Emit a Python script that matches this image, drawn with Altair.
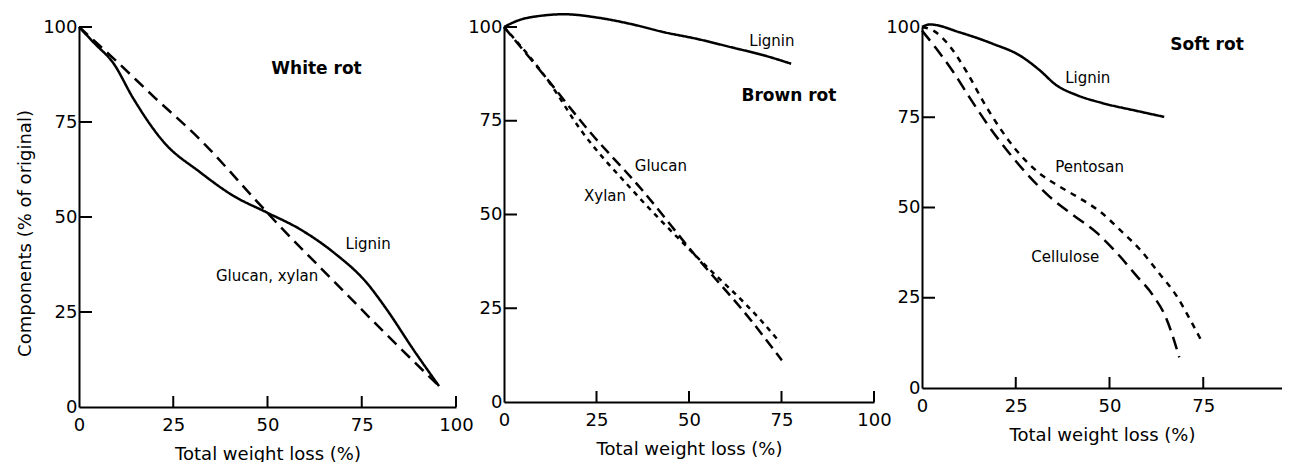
import altair as alt
import pandas as pd

# ---------------- data ----------------
# White rot
wr_lignin_x = [0, 4, 9.1, 14.4, 22.4, 32.1, 40.9, 49.8, 58.6, 67.5, 76.3, 81.6, 88.7, 95.5]
wr_lignin_y = [100, 95.8, 90.5, 81.2, 69.8, 61.8, 55.6, 51.2, 46.8, 40.7, 32.7, 25.7, 15.1, 5.5]
wr_gx_x = [0, 9.5, 20, 32.1, 47.1, 52.4, 67.5, 79.8, 95.5]
wr_gx_y = [100, 91.4, 81.5, 70.4, 54.2, 48.5, 33.2, 20.8, 5.5]

# Brown rot
br_lignin_x = [0, 3.7, 10, 16.3, 25.3, 34.3, 43.3, 52.3, 61.4, 70.4, 77.6]
br_lignin_y = [100, 101.7, 103, 103.4, 102.5, 100.8, 98.6, 96.8, 94.6, 92.4, 90.2]
br_glucan_x = [0, 12, 22.7, 37.1, 51.6, 66.9, 75.1]
br_glucan_y = [100, 85.7, 72.6, 56.8, 39.2, 21.6, 11.1]
br_xylan_x = [0, 12, 20.7, 34.4, 51.6, 69.6, 74.6]
br_xylan_y = [100, 85.6, 72.6, 56.8, 39.2, 21.6, 15.9]

# Soft rot
sr_lignin_x = [0, 2.1, 10.1, 19, 26.1, 31.4, 35.8, 41.1, 48.2, 57.1, 64.6]
sr_lignin_y = [100, 100.7, 98.5, 95.3, 92.1, 88, 83.9, 81.2, 78.9, 76.8, 75.1]
sr_pentosan_x = [0, 3, 6.6, 11.9, 16.3, 20.7, 25.2, 31.4, 36.7, 42, 47.3, 53.5, 58, 63.3, 67.7, 72.2, 74.8]
sr_pentosan_y = [100, 99, 95.7, 87.6, 79.4, 72.1, 65.8, 59.4, 55.8, 52.6, 49, 43.1, 38.5, 31.7, 25.8, 17.6, 12.5]
sr_cell_x = [0, 3.9, 8.3, 12.8, 18.1, 23.4, 28.7, 34, 40.2, 46.5, 51.8, 57.1, 61.5, 65.1, 68.6]
sr_cell_y = [99, 93.9, 87.6, 80.3, 72.1, 64.9, 58.5, 53, 48, 43.1, 37.6, 31.2, 25.8, 19.4, 8.5]

# labels inside panels
wr_lab_text = ["Lignin", "Glucan, xylan"]
wr_lab_x = [76.7, 49.9]
wr_lab_y = [42.9, 34.4]
br_lab_text = ["Lignin", "Glucan", "Xylan"]
br_lab_x = [72.4, 42.4, 27.3]
br_lab_y = [96.3, 63, 54.9]
sr_lab_text = ["Lignin", "Pentosan", "Cellulose"]
sr_lab_x = [44.2, 44.7, 38.2]
sr_lab_y = [85.8, 61.3, 36.2]

panel_titles = ["White rot", "Brown rot", "Soft rot"]
title_x = [63, 77, 76]
title_y = [89, 81.5, 95]

axis_labels = [0, 25, 50, 75, 100]
sr_x_labels = [0, 25, 50, 75]
wr_xticks = [25, 50, 75, 100]
wr_yticks = [25, 50, 75, 100]
br_xticks = [25, 50, 75, 100]
br_yticks = [25, 50, 75, 100]
sr_xticks = [25, 50, 75]
sr_yticks = [25, 50, 75]

FONT = "DejaVu Sans"


def series(name, xs, ys):
    return pd.DataFrame({"x": xs, "y": ys, "s": name})


def panel(lines, dash_domain, dash_range, lab_t, lab_x, lab_y, title, tx, ty,
          xticks, yticks, xdomain, xlabels, w, h, ytitle):
    xenc = alt.X("x:Q", scale=alt.Scale(domain=xdomain, nice=False, zero=False),
                 axis=alt.Axis(values=xlabels, title="Total weight loss (%)"))
    yenc = alt.Y("y:Q", scale=alt.Scale(domain=[0, 100], nice=False),
                 axis=alt.Axis(values=axis_labels, title=ytitle, titleY=h / 2 + 16))
    # tick lengths in pixels converted to data units of this panel
    xtick_len = 11 * 100 / h
    ytick_len = 13 * (xdomain[1] - xdomain[0]) / w
    df = pd.concat(lines, ignore_index=True)
    line = alt.Chart(df).mark_line(color="black", strokeWidth=2.5, interpolate="monotone").encode(
        x=xenc, y=yenc,
        strokeDash=alt.StrokeDash("s:N", scale=alt.Scale(domain=dash_domain, range=dash_range), legend=None),
        detail="s:N",
    )
    xt = alt.Chart(pd.DataFrame({"x": xticks})).mark_rule(color="black", strokeWidth=2).encode(
        x=xenc, y=alt.datum(0), y2=alt.datum(xtick_len))
    yt = alt.Chart(pd.DataFrame({"y": yticks})).mark_rule(color="black", strokeWidth=2).encode(
        y=yenc, x=alt.datum(xdomain[0]), x2=alt.datum(ytick_len))
    labs = alt.Chart(pd.DataFrame({"x": lab_x, "y": lab_y, "t": lab_t})).mark_text(
        font=FONT, fontSize=15, color="black").encode(x=xenc, y=yenc, text="t:N")
    ttl = alt.Chart(pd.DataFrame({"x": [tx], "y": [ty], "t": [title]})).mark_text(
        font=FONT, fontSize=17, fontWeight="bold", color="black").encode(x=xenc, y=yenc, text="t:N")
    return alt.layer(line, xt, yt, labs, ttl).properties(width=w, height=h)


p1 = panel([series("Lignin", wr_lignin_x, wr_lignin_y), series("Glucan, xylan", wr_gx_x, wr_gx_y)],
           ["Lignin", "Glucan, xylan"], [[1, 0], [12, 7]],
           wr_lab_text, wr_lab_x, wr_lab_y, panel_titles[0], title_x[0], title_y[0],
           wr_xticks, wr_yticks, [0, 100], axis_labels, 377, 380, "Components (% of original)")
p2 = panel([series("Lignin", br_lignin_x, br_lignin_y), series("Glucan", br_glucan_x, br_glucan_y),
            series("Xylan", br_xylan_x, br_xylan_y)],
           ["Lignin", "Glucan", "Xylan"], [[1, 0], [11, 6], [5, 5]],
           br_lab_text, br_lab_x, br_lab_y, panel_titles[1], title_x[1], title_y[1],
           br_xticks, br_yticks, [0, 100], axis_labels, 370, 375, "")
p3 = panel([series("Lignin", sr_lignin_x, sr_lignin_y), series("Pentosan", sr_pentosan_x, sr_pentosan_y),
            series("Cellulose", sr_cell_x, sr_cell_y)],
           ["Lignin", "Pentosan", "Cellulose"], [[1, 0], [6, 6], [13, 7]],
           sr_lab_text, sr_lab_x, sr_lab_y, panel_titles[2], title_x[2], title_y[2],
           sr_xticks, sr_yticks, [0, 96], sr_x_labels, 360, 361, "")

chart = alt.hconcat(p1, p2, p3, spacing=48, bounds="flush").resolve_scale(
    strokeDash="independent"
).properties(
    padding={"left": 8, "top": 1, "right": 0, "bottom": 0}
).configure_view(stroke=None).configure_axis(
    domainColor="black", domainWidth=2, ticks=False, grid=False,
    labelColor="black", labelFont=FONT, labelFontSize=18, labelFlush=False, labelOverlap=False,
    titleColor="black", titleFont=FONT, titleFontSize=18, titleFontWeight="normal",
).configure_axisX(labelPadding=9, titlePadding=11).configure_axisY(labelPadding=2, titlePadding=8)

chart.save("out.html", embed_options={"renderer": "svg", "actions": False})
